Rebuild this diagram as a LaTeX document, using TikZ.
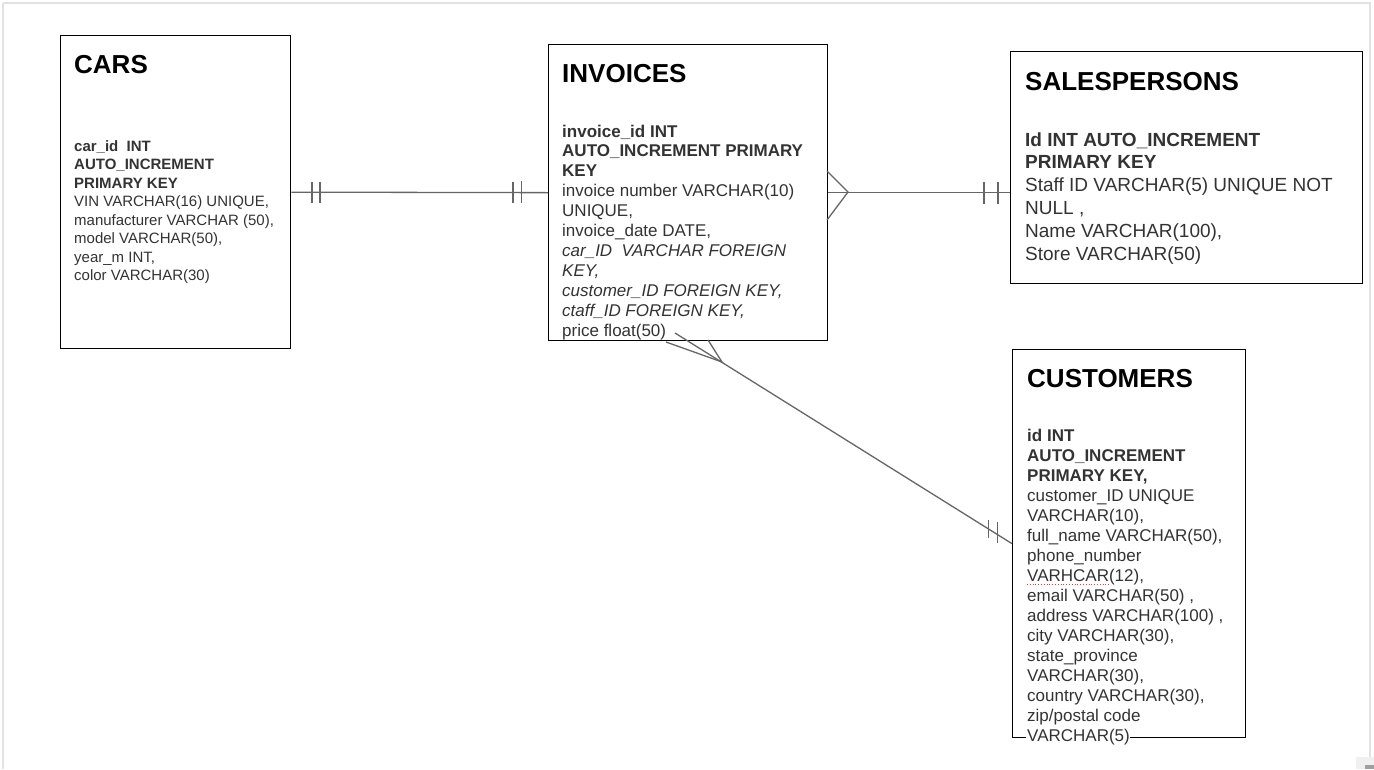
\documentclass[tikz,border=0pt]{standalone}
\usepackage{fontspec}
\setmainfont{Liberation Sans}
\definecolor{txt}{HTML}{333333}
\definecolor{conn}{HTML}{666666}
\definecolor{frame}{HTML}{E2E2E2}
\newcommand{\bl}[1]{\hbox{#1}}
\begin{document}
\begin{tikzpicture}[x=1pt,y=-1pt,
  tbl/.style={draw=black, line width=1.3pt, inner sep=0pt, anchor=north west, fill=white},
  ttl/.style={anchor=base west, inner sep=0pt, font=\fontsize{26}{30}\selectfont\bfseries, text=black},
  body/.style={anchor=base west, inner sep=0pt, text=txt},
  rel/.style={draw=conn, line width=1.3pt},
  bar/.style={draw=conn, line width=1.2pt}]
\useasboundingbox (0,0) rectangle (1374,769);
\fill[white] (0,0) rectangle (1374,769);
\draw[frame, line width=1.5pt] (3,3) -- (1370,3) -- (1370,769);
\draw[frame, line width=1.5pt] (3,3) -- (3,769);
\fill[gray!12] (1356,757) rectangle (1374,769);
\fill[gray!75] (1365,765) rectangle (1374,769);

% tables
\node[tbl, minimum width=230pt, minimum height=313pt] (cars) at (60,35) {};
\node[tbl, minimum width=279pt, minimum height=296pt] (inv) at (548,44) {};
\node[tbl, minimum width=352pt, minimum height=232pt] (sales) at (1010,51) {};
\node[tbl, minimum width=233pt, minimum height=388pt] (cust) at (1012,349) {};

% titles
\node[ttl] (carsT) at (74,73.5) {CARS};
\node[ttl] (invT) at (562,82.5) {INVOICES};
\node[ttl] (salesT) at (1025,90.5) {SALESPERSONS};
\node[ttl] (custT) at (1027,387.5) {CUSTOMERS};

% bodies
\node[body, font=\fontsize{15}{18}\selectfont] (carsB) at (74,151.5) {\vtop{\baselineskip=18.43pt
  \bl{\bfseries car\_id\ \ INT}
  \bl{\bfseries AUTO\_INCREMENT}
  \bl{\bfseries PRIMARY KEY}
  \bl{VIN VARCHAR(16) UNIQUE,}
  \bl{manufacturer VARCHAR (50),}
  \bl{model VARCHAR(50),}
  \bl{year\_m INT,}
  \bl{color VARCHAR(30)}}};

\node[body, font=\fontsize{17}{20}\selectfont] (invB) at (562,137) {\vtop{\baselineskip=19.9pt
  \bl{\bfseries invoice\_id INT}
  \bl{\bfseries AUTO\_INCREMENT PRIMARY}
  \bl{\bfseries KEY}
  \bl{invoice number VARCHAR(10)}
  \bl{UNIQUE,}
  \bl{invoice\_date DATE,}
  \bl{\itshape car\_ID\ \ VARCHAR FOREIGN}
  \bl{\itshape KEY,}
  \bl{\itshape customer\_ID FOREIGN KEY,}
  \bl{\itshape ctaff\_ID FOREIGN KEY,}
  \bl{price float(50)}}};

\node[body, font=\fontsize{19}{23}\selectfont] (salesB) at (1025,146) {\vtop{\baselineskip=22.8pt
  \bl{\bfseries Id INT AUTO\_INCREMENT}
  \bl{\bfseries PRIMARY KEY}
  \bl{Staff ID VARCHAR(5) UNIQUE NOT}
  \bl{NULL ,}
  \bl{Name VARCHAR(100),}
  \bl{Store VARCHAR(50)}}};

\fill[white] (1026,734.5) rectangle (1130,739.5);
\draw[red!80, line width=0.8pt, dotted] (1027,584) -- (1109,584);
\node[body, font=\fontsize{17}{20}\selectfont] (custB) at (1027,441) {\vtop{\baselineskip=20pt
  \bl{\bfseries id INT}
  \bl{\bfseries AUTO\_INCREMENT}
  \bl{\bfseries PRIMARY KEY,}
  \bl{customer\_ID UNIQUE}
  \bl{VARCHAR(10),}
  \bl{full\_name VARCHAR(50),}
  \bl{phone\_number}
  \bl{VARHCAR(12),}
  \bl{email VARCHAR(50) ,}
  \bl{address VARCHAR(100) ,}
  \bl{city VARCHAR(30),}
  \bl{state\_province}
  \bl{VARCHAR(30),}
  \bl{country VARCHAR(30),}
  \bl{zip/postal code}
  \bl{VARCHAR(5)}}};

% CARS -- INVOICES
\draw[rel] (cars.east) -- (inv.west);
\draw[bar] (312,182) -- (312,203);
\draw[bar] (320,182) -- (320,203);
\draw[bar] (513,182) -- (513,203);
\draw[bar] (521.5,181) -- (521.5,203);

% INVOICES -- SALESPERSONS
\coordinate (ap1) at (848,192);
\draw[rel] (inv.east) -- (inv.east -| sales.west);
\draw[rel] (827,171) -- (ap1) -- (827,220);
\draw[bar] (984,182) -- (984,204);
\draw[bar] (998,182) -- (998,204);

% INVOICES -- CUSTOMERS
\coordinate (ap2) at (722,362);
\coordinate (cf1) at (675,333);
\coordinate (cf2) at (666,342);
\coordinate (cf3) at (708,340);
\draw[rel] (cf1) -- (cust.west);
\draw[rel] (cf2) -- (ap2) -- (cf3);
\draw[bar] (988.3,520) -- (988.3,538);
\draw[bar] (997.3,522) -- (997.3,543);
\end{tikzpicture}
\end{document}
